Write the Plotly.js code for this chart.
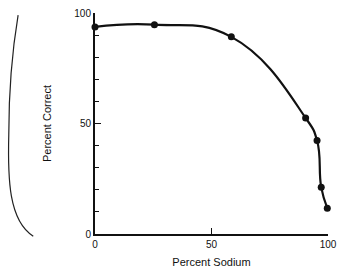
<!DOCTYPE html>
<html>
<head>
<meta charset="utf-8">
<script src="https://cdn.plot.ly/plotly-3.0.1.min.js"></script>
<style>html,body{margin:0;padding:0;background:#fff;}#chart{width:339px;height:274px;}</style>
</head>
<body>
<div id="chart"></div>
<script>
const percentSodium = [0, 25.5, 58.5, 90.4, 95.3, 97.1, 99.7];
const percentCorrect = [93.7, 94.7, 89.2, 52.5, 42.3, 21.1, 11.7];
const xTickVals = [0, 50, 100];
const yTickVals = [0, 50, 100];

const trace = {
  x: percentSodium,
  y: percentCorrect,
  mode: 'lines+markers',
  line: {shape: 'spline', smoothing: 1.3, color: '#111', width: 2.2},
  marker: {color: '#111', size: 7},
  cliponaxis: false,
  hoverinfo: 'none'
};

const fam = 'Liberation Sans, Arial, sans-serif';

const layout = {
  width: 339, height: 274,
  margin: {l: 95, r: 11, t: 13, b: 40},
  paper_bgcolor: '#fff', plot_bgcolor: '#fff',
  showlegend: false,
  font: {family: fam, size: 10, color: '#111'},
  xaxis: {
    range: [0, 100], showgrid: false, zeroline: false,
    showline: true, linecolor: '#111', linewidth: 2,
    tickmode: 'array', tickvals: xTickVals, ticktext: xTickVals.map(String),
    ticks: 'inside', ticklen: 6, tickwidth: 1.5, tickcolor: '#111',
    tickfont: {family: fam, size: 10, color: '#111'},
    title: {text: 'Percent Sodium', font: {family: fam, size: 11, color: '#111'}, standoff: 9}
  },
  yaxis: {
    range: [0, 100], showgrid: false, zeroline: false,
    showline: true, linecolor: '#111', linewidth: 2,
    tickmode: 'array', tickvals: yTickVals, ticktext: yTickVals.map(String),
    ticks: 'inside', ticklen: 6, tickwidth: 1.5, tickcolor: '#111',
    minor: {dtick: 10, tick0: 0, ticks: 'inside', ticklen: 4, tickwidth: 1, tickcolor: '#111', showgrid: false},
    tickfont: {family: fam, size: 10, color: '#111'},
    title: {text: 'Percent Correct', font: {family: fam, size: 11, color: '#111'}, standoff: 20}
  },
  shapes: [{
    type: 'path', xref: 'paper', yref: 'paper',
    path: 'M -0.33 0.99 C -0.36 0.80, -0.37 0.60, -0.37 0.45 C -0.375 0.25, -0.37 0.06, -0.265 -0.01',
    line: {color: '#222', width: 1.2}
  }]
};

Plotly.newPlot('chart', [trace], layout, {staticPlot: true, displayModeBar: false});
</script>
</body>
</html>
